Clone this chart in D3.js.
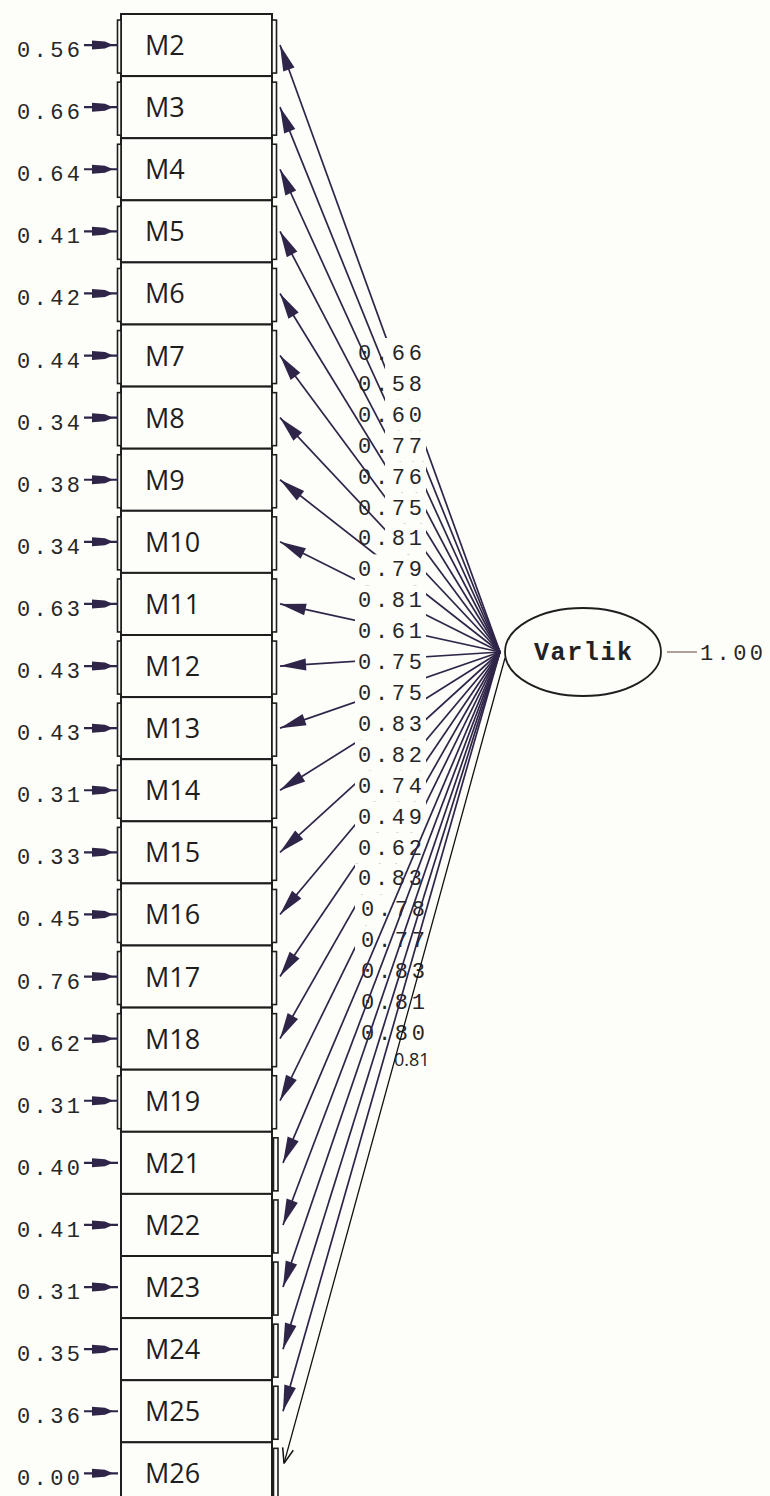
<!DOCTYPE html>
<html>
<head>
<meta charset="utf-8">
<script src="https://cdn.jsdelivr.net/npm/d3@7"></script>
<style>
  body { margin: 0; background: #fdfdfa; }
  svg { display: block; }
</style>
</head>
<body>
<div id="wrapper"></div>
<script>
// indicators, standardized loadings and error variances, top to bottom
const indicators = ["M2", "M3", "M4", "M5", "M6", "M7", "M8", "M9", "M10", "M11", "M12", "M13",
  "M14", "M15", "M16", "M17", "M18", "M19", "M21", "M22", "M23", "M24", "M25", "M26"]
const loadings = [0.66, 0.58, 0.60, 0.77, 0.76, 0.75, 0.81, 0.79, 0.81, 0.61, 0.75, 0.75,
  0.83, 0.82, 0.74, 0.49, 0.62, 0.83, 0.78, 0.77, 0.83, 0.81, 0.80, 0.81]
const errorVariances = [0.56, 0.66, 0.64, 0.41, 0.42, 0.44, 0.34, 0.38, 0.34, 0.63, 0.43, 0.43,
  0.31, 0.33, 0.45, 0.76, 0.62, 0.31, 0.40, 0.41, 0.31, 0.35, 0.36, 0.00]
const factorName = "Varlik"
const factorVariance = 1.00

function drawPath() {
  const width = 770
  const height = 1496
  const lineColor = "#2f2548"
  const ink = "#1e1e1e"
  const fmt = d3.format(".2f")

  const svg = d3.select("#wrapper")
    .append("svg")
      .attr("width", width)
      .attr("height", height)
  svg.append("rect")
    .attr("width", width).attr("height", height)
    .attr("fill", "#fdfdfa")

  // rows of the diagram
  const yBand = d3.scaleBand()
    .domain(indicators)
    .range([14, 14 + 62.1 * indicators.length])
    .paddingInner(0)
  const yMid = d => yBand(d) + yBand.bandwidth() / 2
  const nLab = loadings.length - 1
  const labelY = d3.scaleLinear().domain([0, nLab - 1]).range([360, 1040])

  const box = { x0: 121, x1: 272 }
  const origin = { x: 500, y: 652 }
  const late = 18 // M21 and after

  // boxes
  const boxes = svg.append("g")
  boxes.selectAll("rect.box")
    .data(indicators)
    .join("rect")
      .attr("class", "box")
      .attr("x", box.x0)
      .attr("y", d => yBand(d))
      .attr("width", box.x1 - box.x0)
      .attr("height", yBand.bandwidth())
      .attr("fill", "#fdfdfa")
      .attr("stroke", ink)
      .attr("stroke-width", 2)

  // little side bars
  boxes.selectAll("rect.rbar")
    .data(indicators)
    .join("rect")
      .attr("class", "rbar")
      .attr("x", (d, i) => i < late ? box.x1 : box.x1 + 1.5)
      .attr("y", d => yMid(d) - 25)
      .attr("width", 4.5)
      .attr("height", 53)
      .attr("fill", "#fdfdfa")
      .attr("stroke", ink)
      .attr("stroke-width", 1.6)
  boxes.selectAll("rect.lbar")
    .data(indicators.slice(0, late))
    .join("rect")
      .attr("class", "lbar")
      .attr("x", box.x0 - 3.5)
      .attr("y", d => yMid(d) - 25)
      .attr("width", 3.5)
      .attr("height", 53)
      .attr("fill", "#fdfdfa")
      .attr("stroke", ink)
      .attr("stroke-width", 1.6)

  boxes.selectAll("text")
    .data(indicators)
    .join("text")
      .attr("x", box.x0 + 24)
      .attr("y", d => yMid(d) + 10)
      .text(d => d)
      .attr("fill", ink)
      .style("font-family", "'Open Sans', sans-serif")
      .style("font-size", "27px")

  // error variances
  const errors = svg.append("g")
  errors.selectAll("line")
    .data(indicators)
    .join("line")
      .attr("x1", 84).attr("x2", box.x0 - 3)
      .attr("y1", d => yMid(d)).attr("y2", d => yMid(d))
      .attr("stroke", lineColor)
      .attr("stroke-width", 2.2)
  errors.selectAll("path")
    .data(indicators)
    .join("path")
      .attr("d", d => {
        const y = yMid(d)
        return `M92,${y - 4.5}L105,${y - 3.5}L113,${y}L105,${y + 3.5}L92,${y + 4.5}Z`
      })
      .attr("fill", lineColor)
  errors.selectAll("text")
    .data(errorVariances)
    .join("text")
      .attr("x", 17)
      .attr("y", (d, i) => yMid(indicators[i]) + 12)
      .attr("textLength", 63)
      .attr("lengthAdjust", "spacing")
      .text(fmt)
      .attr("fill", "#262626")
      .style("font-family", "'Liberation Mono', monospace")
      .style("font-size", "22px")

  // loading arrows
  function arrowHead(tx, ty, fx, fy, len, half) {
    const a = Math.atan2(fy - ty, fx - tx)
    const bx = tx + len * Math.cos(a)
    const by = ty + len * Math.sin(a)
    const px = -Math.sin(a) * half
    const py = Math.cos(a) * half
    return `M${tx},${ty}L${bx + px},${by + py}L${bx - px},${by - py}Z`
  }
  const tipX = i => i < late ? 280 : 283

  function drawLoadings(g, idx) {
    g.selectAll("line")
      .data(idx)
      .join("line")
        .attr("x1", origin.x).attr("y1", origin.y)
        .attr("x2", i => tipX(i)).attr("y2", i => yMid(indicators[i]))
        .attr("stroke", lineColor)
        .attr("stroke-width", 1.7)
    g.selectAll("path")
      .data(idx)
      .join("path")
        .attr("d", i => arrowHead(tipX(i), yMid(indicators[i]), origin.x, origin.y, 26, 6))
        .attr("fill", lineColor)
  }

  const allIdx = d3.range(nLab)
  drawLoadings(svg.append("g"), allIdx.filter(i => i < late))

  // white patches behind the loading labels
  svg.append("g").selectAll("rect")
    .data(allIdx)
    .join("rect")
      .attr("x", i => i < 7 ? 385 : 355)
      .attr("y", i => labelY(i) - 22)
      .attr("width", i => i < 7 ? 41 : 71)
      .attr("height", 31)
      .attr("fill", "#fdfdfa")

  svg.append("g").selectAll("text")
    .data(allIdx)
    .join("text")
      .attr("x", i => i < late ? 358 : 361)
      .attr("y", i => labelY(i))
      .attr("textLength", 64)
      .attr("lengthAdjust", "spacing")
      .text(i => fmt(loadings[i]))
      .attr("fill", "#262626")
      .style("font-family", "'Liberation Mono', monospace")
      .style("font-size", "22px")

  drawLoadings(svg.append("g"), allIdx.filter(i => i >= late))

  // last indicator: thin black arrow
  const last = indicators.length - 1
  const lastTip = { x: 284, y: yMid(indicators[last]) - 10 }
  const lastFrom = { x: 505, y: 658 }
  svg.append("line")
    .attr("x1", lastFrom.x).attr("y1", lastFrom.y)
    .attr("x2", lastTip.x).attr("y2", lastTip.y)
    .attr("stroke", "#111")
    .attr("stroke-width", 1.3)
  const a = Math.atan2(lastFrom.y - lastTip.y, lastFrom.x - lastTip.x)
  svg.append("path")
    .attr("d", [-0.35, 0.35].map(da =>
      `M${lastTip.x + 16 * Math.cos(a + da)},${lastTip.y + 16 * Math.sin(a + da)}L${lastTip.x},${lastTip.y}`
    ).join(""))
    .attr("fill", "none")
    .attr("stroke", "#111")
    .attr("stroke-width", 1.5)
  svg.append("text")
    .attr("x", 394)
    .attr("y", labelY(nLab - 1) + 26)
    .text(fmt(loadings[last]))
    .attr("fill", "#222")
    .style("font-family", "'Open Sans', sans-serif")
    .style("font-size", "18px")

  // latent variable
  const fx = 583
  svg.append("ellipse")
    .attr("cx", fx).attr("cy", origin.y)
    .attr("rx", 78).attr("ry", 44)
    .attr("fill", "none")
    .attr("stroke", ink)
    .attr("stroke-width", 1.8)
  svg.append("text")
    .attr("x", fx)
    .attr("y", origin.y + 8)
    .attr("text-anchor", "middle")
    .attr("textLength", 98)
    .attr("lengthAdjust", "spacing")
    .text(factorName)
    .attr("fill", "#222")
    .style("font-family", "'Liberation Mono', monospace")
    .style("font-size", "25px")
    .style("font-weight", "bold")
  svg.append("line")
    .attr("x1", fx + 84).attr("x2", fx + 114)
    .attr("y1", origin.y).attr("y2", origin.y)
    .attr("stroke", "#a8978e")
    .attr("stroke-width", 1.8)
  svg.append("text")
    .attr("x", 700)
    .attr("y", origin.y + 8)
    .attr("textLength", 63)
    .attr("lengthAdjust", "spacing")
    .text(fmt(factorVariance))
    .attr("fill", "#262626")
    .style("font-family", "'Liberation Mono', monospace")
    .style("font-size", "22px")
}

drawPath()
</script>
</body>
</html>
